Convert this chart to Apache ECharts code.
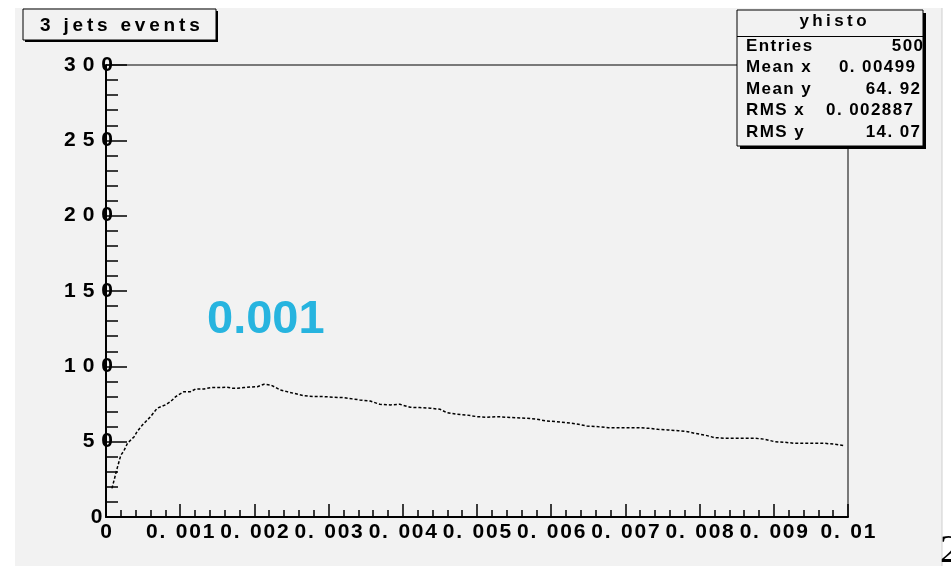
<!DOCTYPE html>
<html>
<head>
<meta charset="utf-8">
<script src="https://cdn.jsdelivr.net/npm/echarts@6/dist/echarts.min.js"></script>
<style>
  html, body { margin: 0; padding: 0; background: #ffffff; }
  #chart { width: 951px; height: 566px; }
</style>
</head>
<body>
<div id="chart"></div>
<script>
// Bin centres (x) and contents (y) of the "yhisto" profile
const binX = [0.00008,0.00011,0.00015,0.00020,0.00024,0.00029,0.00038,0.00042,0.00049,0.00060,
  0.00069,0.00080,0.00087,0.00094,0.00105,0.00114,0.00121,0.00132,0.00141,0.00155,
  0.00163,0.00170,0.00177,0.00186,0.00195,0.00204,0.00213,0.00222,0.00229,0.00235,
  0.00244,0.00253,0.00267,0.00280,0.00294,0.00307,0.00321,0.00332,
  0.00342,0.00356,0.00369,0.00383,0.00396,0.00410,0.00423,0.00437,0.00450,0.00459,
  0.00473,0.00486,0.00500,0.00513,0.00527,0.00540,0.00554,0.00567,0.00581,0.00594,
  0.00607,0.00621,0.00634,0.00648,0.00661,
  0.00677,0.00690,0.00704,0.00717,0.00731,0.00744,0.00757,0.00771,0.00784,0.00793,
  0.00807,0.00820,0.00834,0.00847,0.00861,0.00874,0.00888,0.00901,0.00915,0.00928,
  0.00942,0.00955,0.00969,0.00982,0.00996];
const binY = [19.0,24.6,32.3,41.0,43.8,49.0,53.3,56.7,61.0,66.6,
  72.2,74.4,76.6,79.9,83.2,83.2,85.0,85.0,85.9,85.9,
  86.1,85.5,85.5,85.9,86.3,86.5,88.1,87.6,85.9,84.3,
  83.2,82.1,80.5,79.9,79.9,79.5,79.2,78.4,
  77.7,77.0,74.8,74.4,74.8,72.8,72.6,72.2,71.5,69.3,
  68.2,67.7,66.6,66.2,66.6,66.2,65.9,65.5,64.9,63.7,
  63.3,62.6,61.8,60.4,60.0,
  59.3,59.3,59.3,59.3,58.9,58.2,57.8,57.3,56.6,55.6,
  54.4,52.7,52.3,52.3,52.3,52.3,51.6,50.0,49.6,48.9,
  48.9,48.9,48.9,48.3,47.3];

// Axis tick labels
const xTickLabels = ['0','0. 001','0. 002','0. 003','0. 004','0. 005','0. 006','0. 007','0. 008','0. 009','0. 01'];
const yTickLabels = ['0','5 0','1 0 0','1 5 0','2 0 0','2 5 0','3 0 0'];

// Statistics box
const statsTitle = 'yhisto';
const statsNames = ['Entries','Mean x','Mean y','RMS x','RMS y'];
const statsValues = ['500','0. 00499','64. 92','0. 002887','14. 07'];

const histTitle = '3 jets events';
const noteText = '0.001';
const pageNumber = '2';

const FONT = '"Liberation Sans", Arial, Helvetica, sans-serif';
const THIN = '\u2009';
const HAIR = '\u200A';
const spread = (s, g) => s.split('').join(g);
const wide = s => s.replace(/ /g, '\u2004');
// x labels: hair-spaced digits, en space after the decimal point
const xLabel = s => s.split(' ').map(p => spread(p, HAIR)).join('\u2002');
// y labels: the lone zero sits a little left of the axis
const yLabel = s => (s.length === 1 ? s + '\u2002' : wide(s));

const chart = echarts.init(document.getElementById('chart'), null, { renderer: 'canvas' });

const statsGraphics = [];
statsGraphics.push({ type: 'rect', shape: { x: 740, y: 13, width: 186, height: 136 }, style: { fill: '#000' }, z: 50 });
statsGraphics.push({ type: 'rect', shape: { x: 737, y: 10, width: 186, height: 136 }, style: { fill: '#f2f2f2', stroke: '#000', lineWidth: 1 }, z: 51 });
statsGraphics.push({ type: 'line', shape: { x1: 737, y1: 36.5, x2: 923, y2: 36.5 }, style: { stroke: '#000', lineWidth: 1 }, z: 52 });
statsGraphics.push({ type: 'text', x: 833, y: 21, z: 52,
  style: { text: spread(statsTitle, THIN), font: 'bold 17px ' + FONT, fill: '#000', align: 'center', verticalAlign: 'middle' } });
const rowY = [46, 67.5, 89, 110.5, 132];
const valueRight = [923, 915, 920, 913, 920];
statsNames.forEach((n, i) => {
  statsGraphics.push({ type: 'text', x: 746, y: rowY[i], z: 52,
    style: { text: spread(n, HAIR), font: 'bold 17px ' + FONT, fill: '#000', align: 'left', verticalAlign: 'middle' } });
  statsGraphics.push({ type: 'text', x: valueRight[i], y: rowY[i], z: 52,
    style: { text: spread(statsValues[i], HAIR), font: 'bold 17px ' + FONT, fill: '#000', align: 'right', verticalAlign: 'middle' } });
});

const option = {
  animation: false,
  backgroundColor: '#ffffff',
  grid: { left: 106, top: 65, right: 103, bottom: 49, show: true, borderColor: '#000', borderWidth: 1, backgroundColor: 'transparent' },
  xAxis: {
    type: 'value', min: 0, max: 0.01, interval: 0.001,
    axisLine: { show: true, onZero: false, lineStyle: { color: '#000', width: 2 } },
    axisTick: { show: true, inside: true, length: 13, lineStyle: { color: '#000', width: 1.5 } },
    minorTick: { show: true, splitNumber: 5, length: 7, lineStyle: { color: '#000', width: 1.5 } },
    splitLine: { show: false },
    axisLabel: {
      show: true, margin: 5, color: '#000', fontFamily: FONT, fontWeight: 'bold', fontSize: 21,
      showMinLabel: true, showMaxLabel: true, hideOverlap: false,
      formatter: v => xLabel(xTickLabels[Math.round(v / 0.001)])
    }
  },
  yAxis: {
    type: 'value', min: 0, max: 300, interval: 50,
    axisLine: { show: true, onZero: false, lineStyle: { color: '#000', width: 2 } },
    axisTick: { show: true, inside: true, length: 21, lineStyle: { color: '#000', width: 1.5 } },
    minorTick: { show: true, splitNumber: 5, length: 12, lineStyle: { color: '#000', width: 1.5 } },
    splitLine: { show: false },
    axisLabel: {
      show: true, margin: -7, color: '#000', fontFamily: FONT, fontWeight: 'bold', fontSize: 21,
      showMinLabel: true, showMaxLabel: true, hideOverlap: false,
      formatter: v => yLabel(yTickLabels[Math.round(v / 50)])
    }
  },
  series: [{
    type: 'line',
    data: binX.map((x, i) => [x, binY[i]]),
    showSymbol: false, symbol: 'none',
    lineStyle: { color: '#000', width: 1.5, type: [3, 2] },
    z: 5
  }],
  graphic: { elements: [
    // pad background
    { type: 'rect', shape: { x: 15, y: 8, width: 927, height: 558 }, style: { fill: '#f2f2f2' }, z: -100, silent: true },
    { type: 'line', shape: { x1: 942, y1: 8, x2: 942, y2: 566 }, style: { stroke: '#cfcfcf', lineWidth: 1 }, z: -99, silent: true },
    // title box
    { type: 'rect', shape: { x: 25, y: 11, width: 193, height: 31 }, style: { fill: '#000' }, z: 50 },
    { type: 'rect', shape: { x: 23, y: 9, width: 193, height: 31 }, style: { fill: '#f2f2f2', stroke: '#000', lineWidth: 1 }, z: 51 },
    { type: 'text', x: 40, y: 26, z: 52,
      style: { text: spread(histTitle, THIN), font: 'bold 19px ' + FONT, fill: '#000', align: 'left', verticalAlign: 'middle' } },
    ...statsGraphics,
    // annotation
    { type: 'text', x: 207, y: 320, z: 52,
      style: { text: noteText, font: 'bold 47px ' + FONT, fill: '#27b4df', align: 'left', verticalAlign: 'middle' } },
    // page number
    { type: 'text', x: 940, y: 551, z: 52,
      style: { text: pageNumber, font: '40px "Liberation Serif", "Times New Roman", serif', fill: '#000', align: 'left', verticalAlign: 'middle' } }
  ] }
};

chart.setOption(option);
</script>
</body>
</html>
